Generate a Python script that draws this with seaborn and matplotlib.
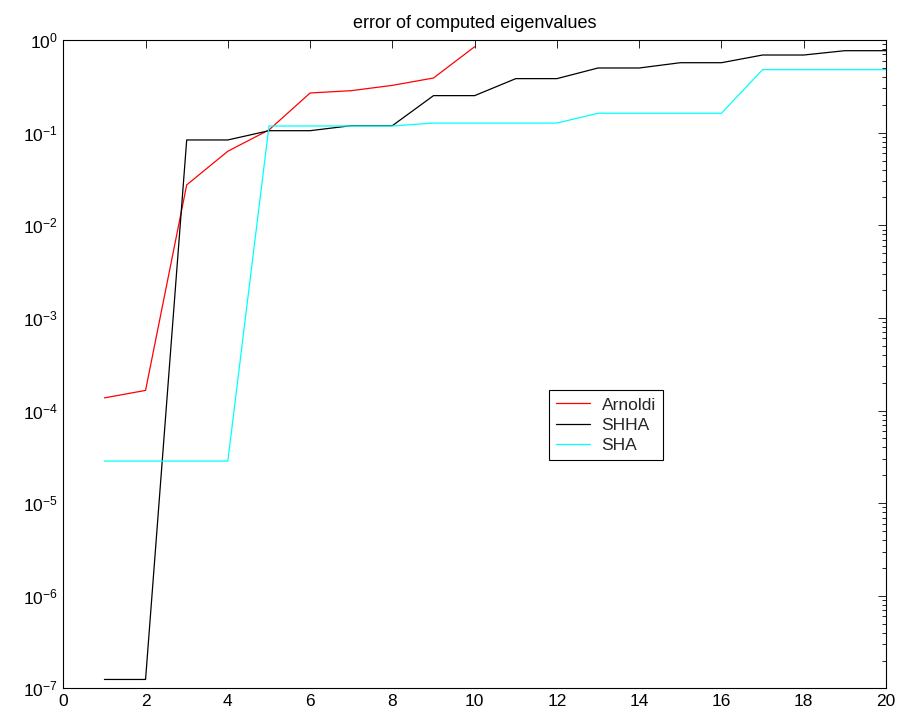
import numpy as np
import pandas as pd
import matplotlib
matplotlib.use("Agg")
import matplotlib.pyplot as plt
import seaborn as sns
from matplotlib.ticker import LogLocator, NullFormatter, NullLocator, FixedLocator

# Error of computed eigenvalues for each method
arnoldi_x = [1, 2, 3, 4, 5, 6, 7, 8, 9, 10]
arnoldi_err = [1.37e-4, 1.65e-4, 0.0273, 0.063, 0.107, 0.268, 0.284, 0.324, 0.389, 0.847]

shha_x = list(range(1, 21))
shha_err = [1.25e-7, 1.25e-7, 0.0834, 0.0834, 0.105, 0.105, 0.119, 0.119, 0.251, 0.251,
            0.383, 0.383, 0.499, 0.499, 0.569, 0.569, 0.689, 0.689, 0.767, 0.767]

sha_x = list(range(1, 21))
sha_err = [2.85e-5, 2.85e-5, 2.85e-5, 2.85e-5, 0.118, 0.118, 0.118, 0.118, 0.127, 0.127,
           0.127, 0.127, 0.162, 0.162, 0.162, 0.162, 0.479, 0.479, 0.479, 0.479]

methods = ["Arnoldi", "SHHA", "SHA"]
colors = ["#ff0000", "#000000", "#00ffff"]

x_ticks = [0, 2, 4, 6, 8, 10, 12, 14, 16, 18, 20]

df = pd.concat([
    pd.DataFrame({"k": arnoldi_x, "err": arnoldi_err, "method": "Arnoldi"}),
    pd.DataFrame({"k": shha_x, "err": shha_err, "method": "SHHA"}),
    pd.DataFrame({"k": sha_x, "err": sha_err, "method": "SHA"}),
], ignore_index=True)

sns.set_theme(style="white")
plt.rcParams["font.family"] = ["Liberation Sans", "DejaVu Sans"]
plt.rcParams["mathtext.fontset"] = "custom"
plt.rcParams["mathtext.rm"] = "Liberation Sans"
plt.rcParams["mathtext.it"] = "Liberation Sans"

fig = plt.figure(figsize=(9.12, 7.16), dpi=100)
ax = fig.add_axes([0.0694, 0.0385, 0.9021, 0.9056])

sns.lineplot(data=df, x="k", y="err", hue="method", hue_order=methods,
             palette=colors, linewidth=0.9, ax=ax, legend=True)

ax.set_yscale("log")
ax.set_xlim(0, 20)
ax.set_ylim(1e-7, 1e0)
ax.xaxis.set_major_locator(FixedLocator(x_ticks))
ax.xaxis.set_minor_locator(NullLocator())
ax.yaxis.set_major_locator(LogLocator(base=10, numticks=20))
ax.yaxis.set_minor_locator(LogLocator(base=10, subs=np.arange(2, 10), numticks=20))
ax.yaxis.set_minor_formatter(NullFormatter())

ax.set_xlabel("")
ax.set_ylabel("")
ax.xaxis.label.set_visible(False)
ax.yaxis.label.set_visible(False)
ax.set_title("error of computed eigenvalues", fontsize=13, color="black", pad=9)

for s in ax.spines.values():
    s.set_visible(True)
    s.set_color("black")
    s.set_linewidth(0.8)

ax.tick_params(which="both", direction="in", top=True, right=True,
               colors="black", labelsize=12.5)
ax.tick_params(which="major", length=6, width=0.6)
ax.tick_params(which="minor", length=3, width=0.6)
ax.tick_params(axis="x", pad=4)
ax.tick_params(axis="y", pad=4)

leg = ax.legend(loc="lower left", bbox_to_anchor=(0.590, 0.352), fontsize=12.5,
                frameon=True, fancybox=False, framealpha=1, edgecolor="black",
                borderpad=0.4, handlelength=2.0, handletextpad=0.65,
                labelspacing=0.3, borderaxespad=0)
leg.get_frame().set_linewidth(0.8)
for line in leg.get_lines():
    line.set_linewidth(0.9)

fig.savefig("out.png", dpi=100, facecolor="white")
